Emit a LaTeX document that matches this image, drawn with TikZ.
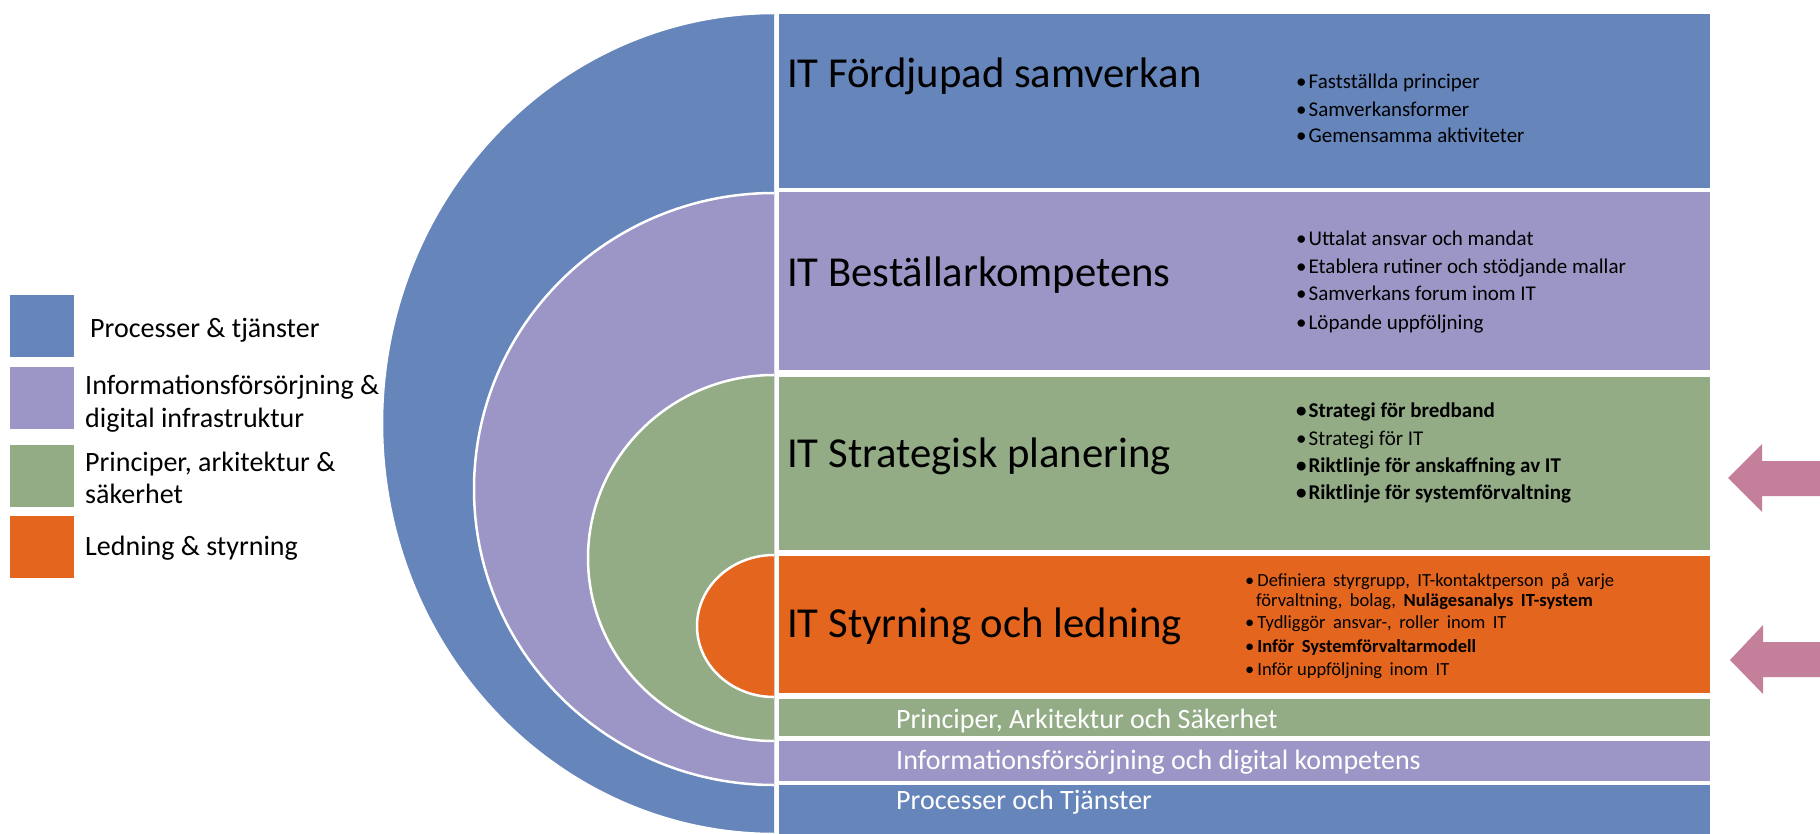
\documentclass[tikz,border=0pt]{standalone}
\usepackage{fontspec}
\setmainfont{Carlito}
\usepackage{tikz}
\definecolor{procblue}{RGB}{101,133,187}
\definecolor{infopurple}{RGB}{155,150,197}
\definecolor{princgreen}{RGB}{147,172,134}
\definecolor{ledorange}{RGB}{228,101,30}
\definecolor{arrowpink}{RGB}{196,128,154}
\newcommand{\orangefont}{\fontsize{18.5}{22}\selectfont\spaceskip=7.5pt\relax}
\tikzstyle{halfring} = [draw=white, 
line width=2.5pt]
\tikzstyle{title} = [anchor=base west, 
inner sep=0pt, 
font=\fontsize{42.7}{50}\selectfont]
\tikzstyle{bigbullet} = [anchor=base west, 
inner sep=0pt, 
font=\fontsize{21}{25}\selectfont]
\tikzstyle{smallbullet} = [anchor=base west, 
inner sep=0pt, 
font=\orangefont]
\tikzstyle{striptext} = [anchor=base west, 
inner sep=0pt, 
text=white, 
font=\fontsize{28}{33}\selectfont]
\tikzstyle{keytext} = [anchor=base west, 
inner sep=0pt, 
font=\fontsize{28}{33}\selectfont]
\tikzstyle{keybox} = [rectangle, 
inner sep=0pt, 
minimum width=64pt, 
minimum height=62pt]
\tikzstyle{blockarrow} = [fill=arrowpink]
\newcommand{\blt}{\textbullet\hspace{2pt}}
\newcommand{\sblt}{\textbullet\hspace{3pt}}

\begin{document}
\begin{tikzpicture}[x=1pt, y=-1pt]
    \useasboundingbox (0,0) rectangle (1820,834);

    % half rings
    \begin{scope}
        \clip (0,0) rectangle (774,834);
        \filldraw [halfring, fill=procblue] (774,423.5) ellipse [x radius=392pt, y radius=410.5pt];
        \filldraw [halfring, fill=infopurple] (774,489) ellipse [x radius=300pt, y radius=296pt];
        \filldraw [halfring, fill=princgreen] (774,558) ellipse [x radius=186pt, y radius=183pt];
        \filldraw [halfring, fill=ledorange] (774,626) ellipse [x radius=77pt, y radius=71pt];
    \end{scope}

    % bands
    \fill [procblue] (779,14) rectangle (1710,188);
    \fill [infopurple] (779,192) rectangle (1710,370);
    \fill [princgreen] (779,377) rectangle (1710,550);
    \fill [ledorange] (779,556) rectangle (1710,693);
    \fill [princgreen] (779,699) rectangle (1710,736);
    \fill [infopurple] (779,741) rectangle (1710,781);
    \fill [procblue] (779,785) rectangle (1710,834);

    \node (samverkan) [title] at (787,88) {IT Fördjupad samverkan};
    \node (kompetens) [title] at (787,287) {IT Beställarkompetens};
    \node (strategi) [title] at (787,467) {IT Strategisk planering};
    \node (styrning) [title] at (787,637) {IT Styrning och ledning};

    \node (sam1) [bigbullet] at (1296,89) {\blt Fastställda principer};
    \node (sam2) [bigbullet] at (1296,117) {\blt Samverkansformer};
    \node (sam3) [bigbullet] at (1296,143) {\blt Gemensamma aktiviteter};

    \node (kom1) [bigbullet] at (1296,246) {\blt Uttalat ansvar och mandat};
    \node (kom2) [bigbullet] at (1296,274) {\blt Etablera rutiner och stödjande mallar};
    \node (kom3) [bigbullet] at (1296,301) {\blt Samverkans forum inom IT};
    \node (kom4) [bigbullet] at (1296,329) {\blt Löpande uppföljning};

    \node (str1) [bigbullet] at (1296,417) {\bfseries\blt Strategi för bredband};
    \node (str2) [bigbullet] at (1296,445) {\blt Strategi för IT};
    \node (str3) [bigbullet] at (1296,472) {\bfseries\blt Riktlinje för anskaffning av IT};
    \node (str4) [bigbullet] at (1296,499) {\bfseries\blt Riktlinje för systemförvaltning};

    \node (sty1) [smallbullet] at (1245,586) {\sblt Definiera styrgrupp, IT-kontaktperson på varje};
    \node (sty1b) [smallbullet] at (1256,606) {förvaltning, bolag, \textbf{Nulägesanalys IT-system}};
    \node (sty2) [smallbullet] at (1245,628) {\sblt Tydliggör ansvar-, roller inom IT};
    \node (sty3) [smallbullet] at (1245,652) {\sblt \textbf{Inför Systemförvaltarmodell}};
    \node (sty4) [smallbullet] at (1245,675) {\sblt Inför\hspace{4pt}uppföljning inom IT};

    \node (principer) [striptext] at (896,728) {Principer, Arkitektur och Säkerhet};
    \node (infoforsorj) [striptext] at (896,769) {Informationsförsörjning och digital kompetens};
    \node (processer) [striptext] at (896,809) {Processer och Tjänster};

    % legend
    \node (keyproc) [keybox, fill=procblue] at (42,326) {};
    \node (keyinfo) [keybox, fill=infopurple] at (42,398) {};
    \node (keyprinc) [keybox, fill=princgreen] at (42,475.5) {};
    \node (keyled) [keybox, fill=ledorange] at (42,546.5) {};
    \node (procText) [keytext] at (90,337) {Processer \& tjänster};
    \node (infoText) [keytext] at (85,394) {Informationsförsörjning \&};
    \node (infoText2) [keytext] at (85,427) {digital infrastruktur};
    \node (princText) [keytext] at (85,471) {Principer, arkitektur \&};
    \node (princText2) [keytext] at (85,503) {säkerhet};
    \node (ledText) [keytext] at (85,555) {Ledning \& styrning};

    % arrows on the right
    \fill [blockarrow] (1820,461) -- (1762,461) -- (1762,444) -- (1728,478) -- (1762,512) -- (1762,496) -- (1820,496) -- cycle;
    \fill [blockarrow] (1820,642) -- (1763,642) -- (1763,625) -- (1730,660) -- (1763,694) -- (1763,677) -- (1820,677) -- cycle;

\end{tikzpicture}
\end{document}
